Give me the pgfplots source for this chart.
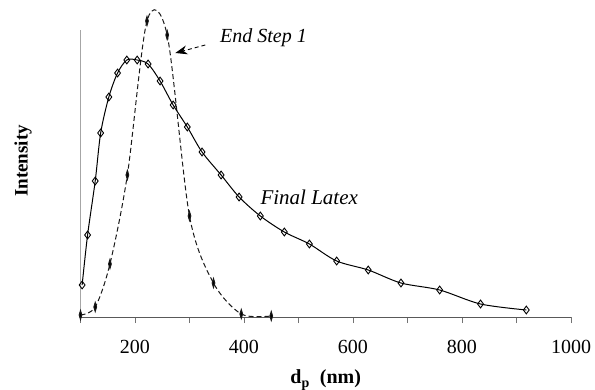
\documentclass[border=0pt]{standalone}
\usepackage{fontspec}
\setmainfont{Liberation Serif}
\usepackage{pgfplots}
\pgfplotsset{compat=1.18}
\usetikzlibrary{arrows.meta}

\pgfplotstableread{
x y
103 32
113 82
127 136
137 184
152 220
168 244
185 257
204 257
224 253
246 236
270 212
296 190
323 165
358 142
391 120
430 101
474 85
520 73
570 56
628 47
688 34
759 27
834 13
918 7
}\finallatex

\pgfplotstableread{
x y
100 2
127 10
154 53
186 142
222 296
259 282
300 101
344 34
395 3
450 1
}\endstep

\begin{document}
\begin{tikzpicture}
\useasboundingbox (-80.5pt,-72pt) rectangle (514.5pt,317pt);
\begin{axis}[
  at={(0,0)}, anchor=south west,
  scale only axis, width=490.5pt, height=287pt,
  xmin=100, xmax=1000, ymin=0, ymax=287,
  axis x line=bottom, axis y line=left,
  x axis line style={-, draw=black!65, line width=0.7pt},
  y axis line style={-, draw=black!35, line width=0.6pt},
  xtick={100,200,...,1000},
  xticklabels={,200,,400,,600,,800,,1000},
  ytick=\empty,
  tick align=outside,
  major tick length=6pt,
  xtick style={draw=black!55, line width=0.6pt},
  xticklabel style={font=\fontsize{20}{24}\selectfont, anchor=north, yshift=-14pt},
  /pgf/number format/assume math mode=true,
  clip=false,
]
\addplot[black!90, line width=1pt, dash pattern=on 5pt off 3pt, smooth, tension=0.5,
  mark=diamond*, mark size=4.5pt, mark options={solid, xscale=0.4, fill=black}]
  table[x=x,y=y] {\endstep};
\addplot[black, line width=1pt, smooth, tension=0.5,
  mark=diamond, mark size=3.9pt, mark options={solid, fill=white, line width=0.9pt}]
  table[x=x,y=y] {\finallatex};

\node[anchor=base west, font=\itshape\fontsize{20}{24}\selectfont, inner sep=0] at (axis cs:356,275) {End Step 1};
\draw[black, line width=0.9pt, dash pattern=on 4pt off 3pt, -{Stealth[length=12pt,width=9pt]}] (axis cs:329,272) -- (axis cs:274,264);
\node[anchor=base west, font=\itshape\fontsize{21}{24}\selectfont, inner sep=0] at (axis cs:430,113) {Final Latex};

\node[rotate=90, font=\bfseries\fontsize{19}{22}\selectfont] at (axis description cs:-0.117,0.544) {Intensity};
\node[font=\bfseries\fontsize{20}{24}\selectfont] at (axis description cs:0.5,-0.2195) {d\textsubscript{p}\ \ (nm)};
\end{axis}
\end{tikzpicture}
\end{document}
